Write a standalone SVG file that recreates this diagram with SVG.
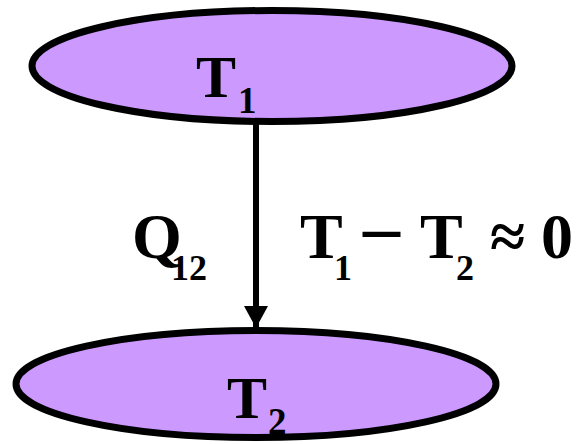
<svg xmlns="http://www.w3.org/2000/svg" width="577" height="444" viewBox="0 0 577 444">
<defs>
<marker id="ah" markerUnits="userSpaceOnUse" markerWidth="26" markerHeight="24" refX="22" refY="12" orient="auto">
<path d="M0,0 L22,12 L0,24 Z" fill="#000"/>
</marker>
</defs>
<rect width="577" height="444" fill="#fff"/>
<g id="connectors">
<line x1="256" y1="121" x2="256" y2="328" stroke="#000" stroke-width="6" marker-end="url(#ah)"/>
<text x="132" y="258" font-size="64" font-family="Liberation Serif" font-weight="bold" style="font-family:'Liberation Serif',serif">Q<tspan font-size="36" x="171" y="280">12</tspan></text>
<text x="300" y="258" font-size="64" font-family="Liberation Serif" font-weight="bold" style="font-family:'Liberation Serif',serif">T<tspan font-size="36" x="334" y="280">1</tspan><tspan font-size="74" x="363" y="252">–</tspan><tspan x="420" y="258">T</tspan><tspan font-size="36" x="456" y="280">2</tspan><tspan x="490" y="258">≈</tspan><tspan x="541" y="258">0</tspan></text>
</g>
<g id="T1">
<ellipse cx="272" cy="66" rx="240" ry="55.5" fill="#CC99FF" stroke="#000" stroke-width="7"/>
<text x="196" y="97" font-size="60" font-family="Liberation Serif" font-weight="bold" style="font-family:'Liberation Serif',serif">T<tspan font-size="37" x="238" y="113">1</tspan></text>
</g>
<g id="T2">
<ellipse cx="256" cy="384" rx="240" ry="53.5" fill="#CC99FF" stroke="#000" stroke-width="7"/>
<text x="227" y="418" font-size="60" font-family="Liberation Serif" font-weight="bold" style="font-family:'Liberation Serif',serif">T<tspan font-size="37" x="268" y="434">2</tspan></text>
</g>
</svg>
